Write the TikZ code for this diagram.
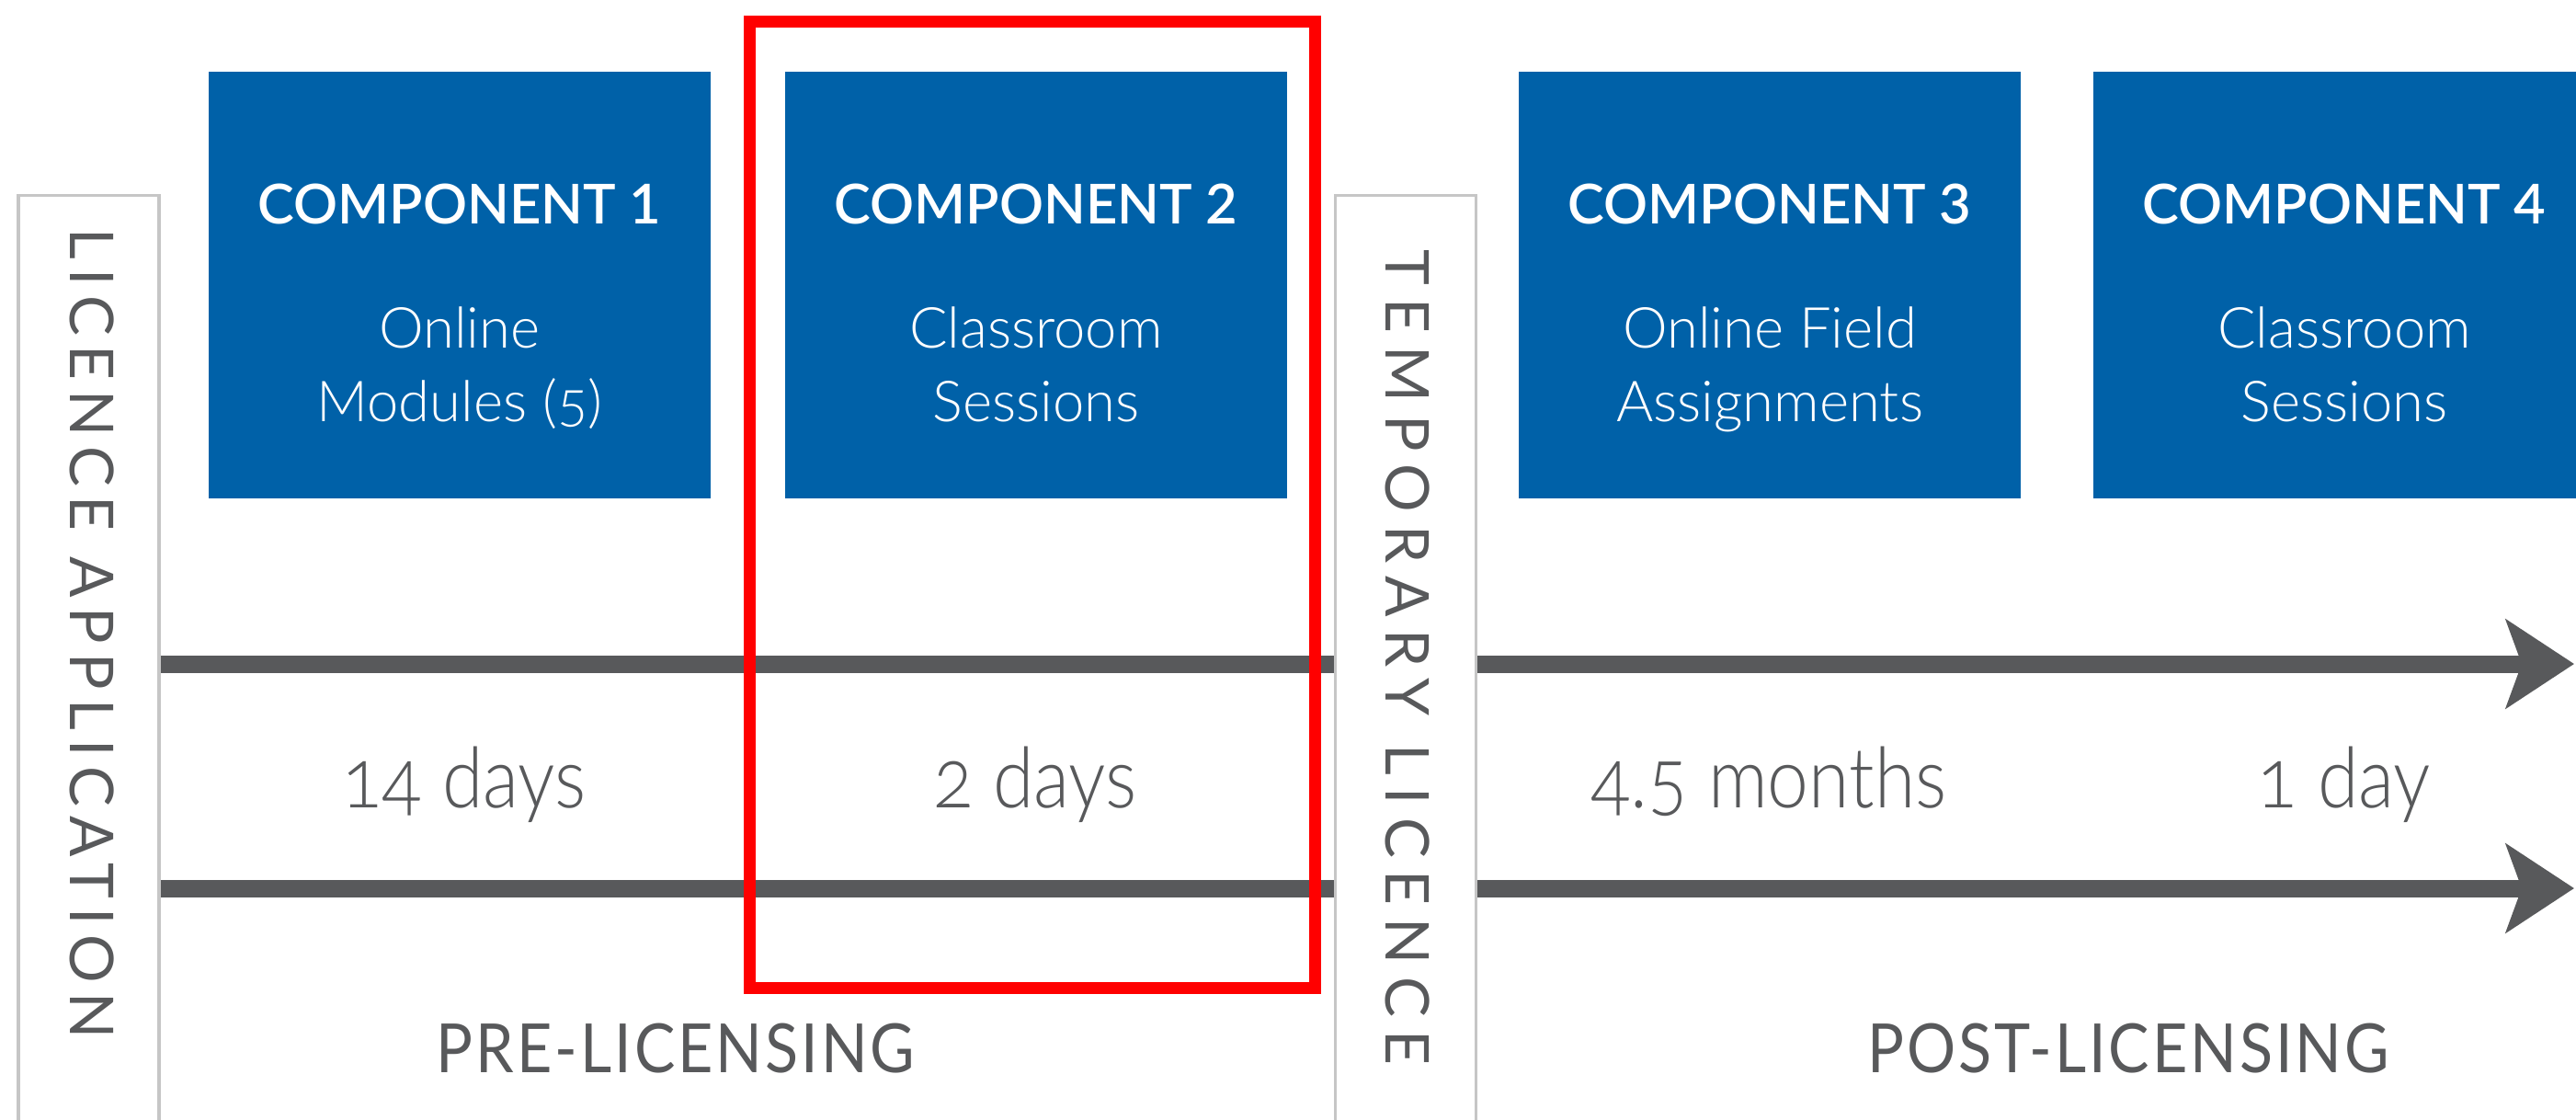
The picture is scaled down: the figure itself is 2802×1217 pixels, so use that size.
\documentclass[tikz,border=0pt]{standalone}
\usepackage{fontspec}
\setmainfont{Lato}
\newfontfamily\titlefont{Lato Semibold}
\newfontfamily\lightfont{Lato Light}[Numbers=OldStyle]
\newfontfamily\durfont{Lato Light}[Numbers=OldStyle, FakeStretch=0.88]
\newfontfamily\vfontA{Lato}[LetterSpace=16]
\newfontfamily\vfontB{Lato}[LetterSpace=21]
\newfontfamily\capsfont{Lato}[LetterSpace=4, FakeStretch=0.9]
\usetikzlibrary{arrows.meta}
\definecolor{compblue}{HTML}{0061A8}
\definecolor{linegray}{HTML}{58595B}
\definecolor{boxgray}{HTML}{C6C6C6}
\definecolor{redframe}{HTML}{FF0000}
\newcommand{\compbox}[5]{%
  \node[comp] (#1) at (#2,310) {};
  \node[comptitle] (#1t) at (#2,243) {#3};
  \node[compsub] (#1a) at (#2,378) {#4};
  \node[compsub] (#1b) at (#2,458) {#5};
}
\begin{document}
\begin{tikzpicture}[x=0.01cm,y=-0.01cm,
  comp/.style={fill=compblue, minimum width=5.45cm, minimum height=4.64cm, inner sep=0pt},
  comptitle/.style={text=white, anchor=base, inner sep=0pt, font=\titlefont\fontsize{17}{21}\selectfont},
  compsub/.style={text=white, anchor=base, inner sep=0pt, font=\lightfont\fontsize{17.5}{22.8}\selectfont},
  vbox/.style={draw=boxgray, fill=white, line width=1pt, minimum width=1.53cm, minimum height=10.17cm, inner sep=0pt},
  vtext/.style={rotate=-90, text=linegray, inner sep=0pt},
  tline/.style={draw=linegray, line width=0.19cm},
  tarrow/.style={tline, -{Stealth[length=0.74cm, width=0.96cm, inset=0.17cm]}},
  dur/.style={anchor=base, text=linegray, inner sep=0pt, font=\durfont\fontsize{26}{30}\selectfont},
  phase/.style={anchor=base, text=linegray, inner sep=0pt, font=\capsfont\fontsize{21}{24}\selectfont},
  hilite/.style={draw=redframe, line width=0.13cm, minimum width=6.14cm, minimum height=10.5cm, inner sep=0pt}
]
\useasboundingbox (0,0) rectangle (2802,1217);
\clip (0,0) rectangle (2802,1217);

% vertical milestone boxes
\node[vbox] (lic) at (96.5,721.5) {};
\node[vtext, font=\vfontA\fontsize{18.7}{20}\selectfont] (lictext) at (100,689) {LICENCE APPLICATION};
\node[vbox] (tmp) at (1529,721.5) {};
\node[vtext, font=\vfontB\fontsize{18.7}{20}\selectfont] (tmptext) at (1531,715) {TEMPORARY LICENCE};

% components
\compbox{c1}{500}{COMPONENT 1}{Online}{Modules (5)}
\compbox{c2}{1127}{COMPONENT 2}{Classroom}{Sessions}
\compbox{c3}{1925}{COMPONENT 3}{Online Field}{Assignments}
\compbox{c4}{2550}{COMPONENT 4}{Classroom}{Sessions}

% timeline
\coordinate (end1) at (2800,722);
\coordinate (end2) at (2800,966);
\draw[tline] (lic.east |- 0,722) -- (tmp.west |- 0,722);
\draw[tline] (lic.east |- 0,966) -- (tmp.west |- 0,966);
\draw[tarrow] (tmp.east |- 0,722) -- (end1);
\draw[tarrow] (tmp.east |- 0,966) -- (end2);

% durations
\node[dur] (d1) at (505,878) {14 days};
\node[dur] (d2) at (1126,878) {2 days};
\node[dur] (d3) at (1924,878) {4.5 months};
\node[dur] (d4) at (2550,878) {1 day};

% phases
\node[phase] (pre) at (735,1166) {PRE-LICENSING};
\node[phase] (post) at (2315,1166) {POST-LICENSING};

% highlight
\node[hilite] (hl) at (1123,549) {};
\end{tikzpicture}
\end{document}
